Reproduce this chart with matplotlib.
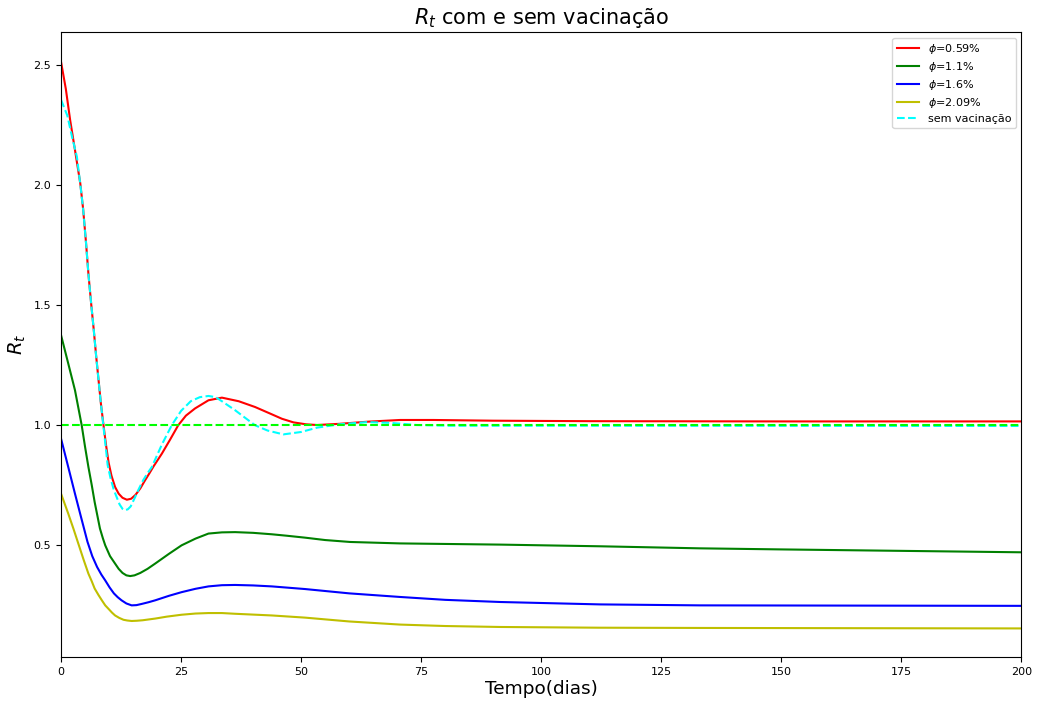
import matplotlib
matplotlib.use("Agg")
import matplotlib.pyplot as plt

# Effective reproduction number R_t over time for several vaccination rates
days_059 = [0, 1, 1.9, 2.9, 4.0, 4.6, 5.2, 5.7, 6.3, 6.8, 7.3, 7.8, 8.3, 8.8,
            9.35, 9.9, 10.5, 11.25, 12, 12.8, 13.7, 14.6, 15.5, 16.5, 17.5,
            18.4, 19.3, 21, 22.7, 24.4, 26, 27.9, 30.7, 33.5, 37, 40.4, 43.5,
            46, 48.4, 51, 53.3, 58, 64, 70.6, 77.5, 90, 110, 150, 200]
rt_059 = [2.513, 2.40, 2.27, 2.146, 2.008, 1.90, 1.76, 1.63, 1.50, 1.40, 1.29,
          1.19, 1.09, 1.007, 0.92, 0.845, 0.79, 0.743, 0.715, 0.698, 0.690,
          0.694, 0.71, 0.737, 0.771, 0.80, 0.83, 0.882, 0.94, 1.0, 1.04, 1.07,
          1.104, 1.115, 1.10, 1.076, 1.049, 1.027, 1.012, 1.004, 1.001, 1.006,
          1.015, 1.022, 1.022, 1.019, 1.017, 1.016, 1.016]

days_110 = [0, 1.5, 2.9, 4.3, 5.0, 5.7, 6.4, 7.0, 7.6, 8.1, 8.7, 9.2, 10.2,
            11.25, 12.0, 12.8, 13.6, 14.4, 15.3, 16.5, 18, 19.6, 22.5, 25.1, 28,
            30.7, 33.5, 36.25, 40, 43.9, 47, 50.8, 55, 60.2, 70.6, 91.5, 112.3,
            133, 150, 175, 200]
rt_110 = [1.375, 1.257, 1.146, 1.0, 0.91, 0.826, 0.75, 0.68, 0.62, 0.57, 0.53,
          0.50, 0.455, 0.424, 0.402, 0.385, 0.375, 0.372, 0.375, 0.385, 0.402,
          0.424, 0.465, 0.50, 0.528, 0.549, 0.554, 0.555, 0.552, 0.546, 0.54,
          0.532, 0.522, 0.514, 0.508, 0.503, 0.496, 0.4875, 0.483, 0.477, 0.471]

days_160 = [0, 1.5, 2.9, 4.0, 5.5, 6.5, 7.5, 8.4, 9.2, 10.1, 11, 11.8, 12.6,
            13.6, 14.7, 15.7, 16.8, 18.2, 19.6, 22.5, 25.1, 28, 30.7, 33.5,
            36.25, 40, 43.9, 50.8, 60, 70.6, 80, 91.5, 112.3, 133, 200]
rt_160 = [0.944, 0.826, 0.715, 0.63, 0.515, 0.455, 0.41, 0.378, 0.354, 0.325,
          0.30, 0.284, 0.271, 0.258, 0.25, 0.251, 0.256, 0.263, 0.271, 0.29,
          0.305, 0.319, 0.329, 0.334, 0.335, 0.333, 0.329, 0.318, 0.30, 0.285,
          0.273, 0.264, 0.254, 0.25, 0.248]

days_209 = [0, 1.5, 2.6, 3.6, 4.7, 5.7, 6.4, 7.0, 7.8, 8.5, 9.2, 10, 10.6, 11.25,
            12.1, 13, 13.8, 14.7, 15.8, 17, 19.6, 22, 25.1, 28, 30.7, 33.5,
            36.25, 43.9, 50.8, 60, 70.6, 80, 91.5, 112, 133, 200]
rt_209 = [0.715, 0.632, 0.568, 0.507, 0.44, 0.382, 0.35, 0.32, 0.293, 0.271,
          0.25, 0.233, 0.22, 0.208, 0.198, 0.19, 0.187, 0.185, 0.186, 0.188,
          0.195, 0.203, 0.211, 0.216, 0.218, 0.218, 0.215, 0.208, 0.199, 0.183,
          0.170, 0.164, 0.16, 0.157, 0.156, 0.154]

days_novac = [0, 1.3, 2.3, 3.3, 4.0, 4.6, 5.2, 5.7, 6.3, 6.8, 7.3, 7.8, 8.3,
              8.8, 9.3, 9.7, 10.3, 11.0, 11.6, 12.2, 12.8, 13.3, 13.9, 14.5,
              15.4, 16.2, 17.1, 18.0, 18.9, 21, 23.05, 25, 27, 28.9, 30.7, 32.2,
              33.5, 36.25, 38.4, 40.4, 43, 46.3, 50, 53.3, 58, 63.7, 68.5, 74,
              81, 100, 200]
rt_novac = [2.355, 2.29, 2.20, 2.118, 2.005, 1.90, 1.76, 1.63, 1.50, 1.40, 1.29,
            1.19, 1.09, 1.0, 0.91, 0.835, 0.78, 0.73, 0.70, 0.67, 0.652, 0.646,
            0.65, 0.662, 0.70, 0.735, 0.771, 0.80, 0.826, 0.92, 1.0, 1.06, 1.10,
            1.117, 1.122, 1.117, 1.10, 1.0625, 1.03, 1.0, 0.978, 0.962, 0.972,
            0.99, 1.004, 1.013, 1.01, 1.001, 0.998, 0.998, 0.997]

series = [
    (days_059, rt_059, "r", "-", r"$\phi$=0.59%"),
    (days_110, rt_110, "g", "-", r"$\phi$=1.1%"),
    (days_160, rt_160, "b", "-", r"$\phi$=1.6%"),
    (days_209, rt_209, "y", "-", r"$\phi$=2.09%"),
    (days_novac, rt_novac, "cyan", "--", "sem vacinação"),
]

fig = plt.figure(figsize=(10.4, 7.02), dpi=100)
ax = fig.add_axes([0.0587, 0.0641, 0.9235, 0.8903])

for d, v, c, ls, lab in series:
    ax.plot(d, v, color=c, linestyle=ls, linewidth=1.5, label=lab)

ax.axhline(1.0, color="lime", linestyle="--", linewidth=1.5)

ax.set_xlim(0, 200)
ax.set_ylim(0.035, 2.6375)
ax.set_xticks([0, 25, 50, 75, 100, 125, 150, 175, 200])
ax.set_yticks([0.5, 1.0, 1.5, 2.0, 2.5])
ax.tick_params(labelsize=8)

ax.set_title(r"$R_t$ com e sem vacinação", fontsize=15)
ax.set_xlabel("Tempo(dias)", fontsize=13.3, labelpad=2)
ax.set_ylabel(r"$R_t$", fontsize=14)
ax.legend(loc="upper right", fontsize=8, labelspacing=0.35)

fig.savefig("out.png", dpi=100)
